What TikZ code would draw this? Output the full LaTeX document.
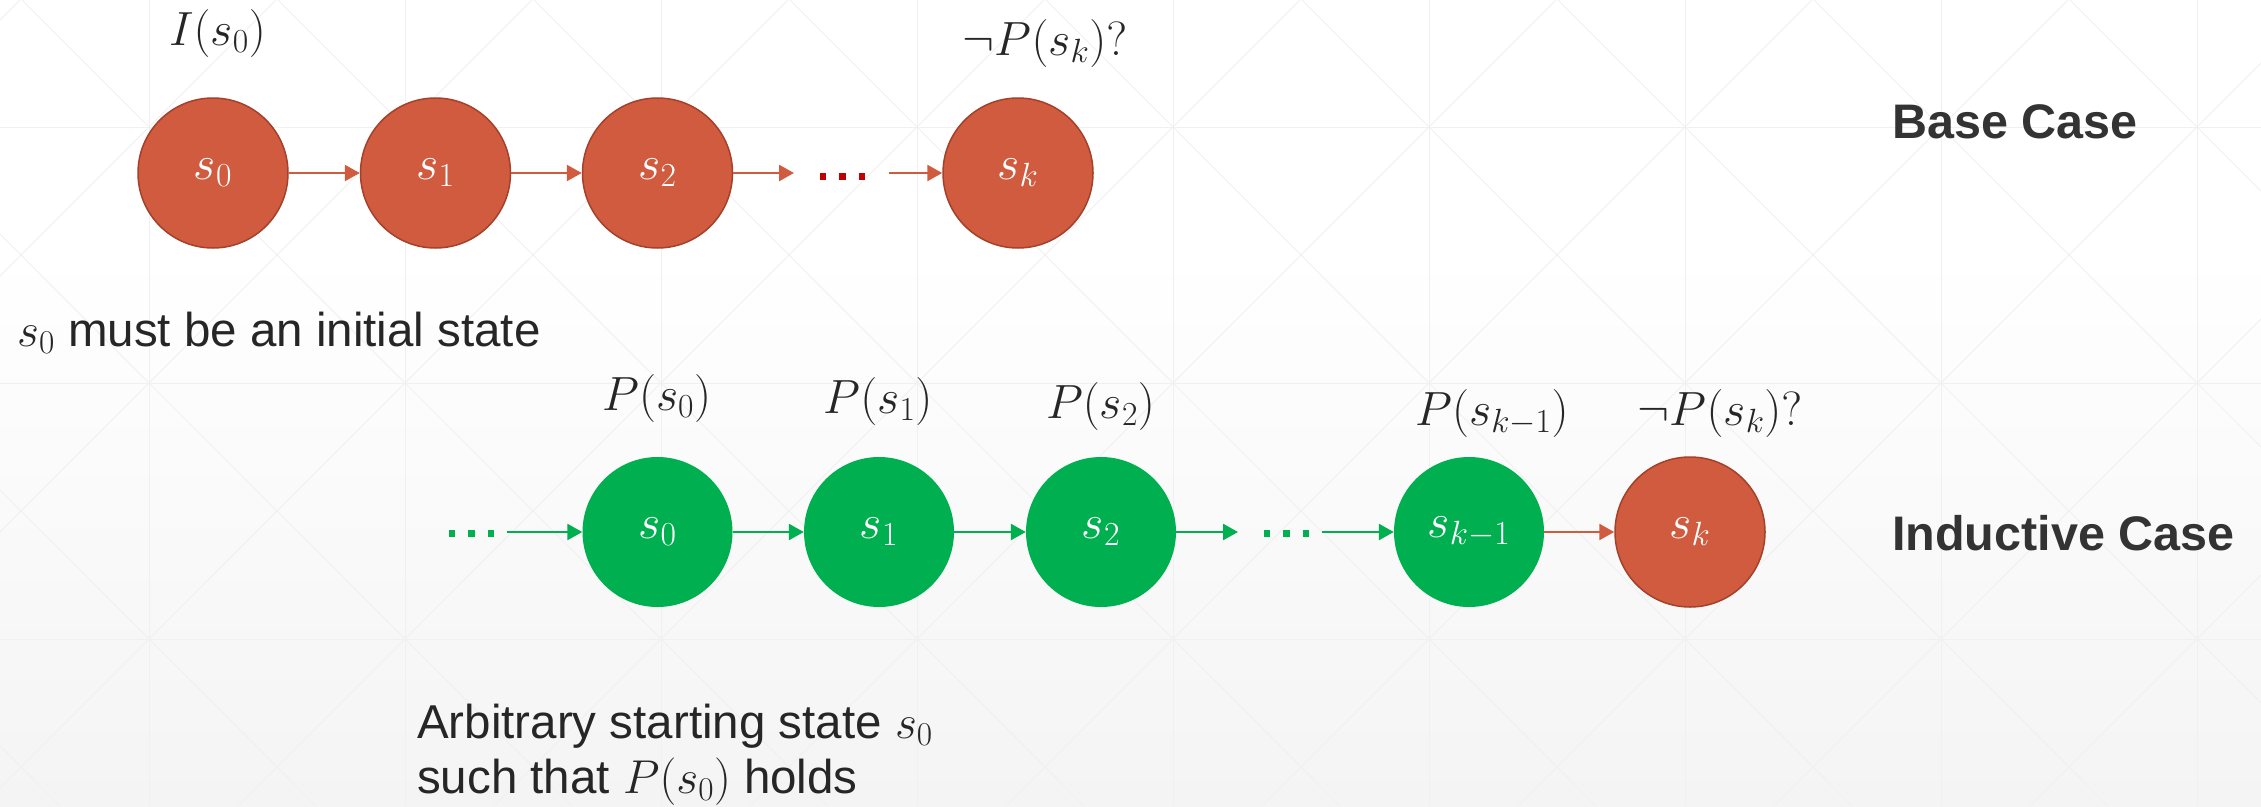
\RequirePackage{fix-cm}
\documentclass[tikz,border=0pt]{standalone}
\usepackage{fontspec}
\setmainfont{Liberation Sans}
\usetikzlibrary{arrows.meta}
\definecolor{redfill}{HTML}{D15B3F}
\definecolor{redline}{HTML}{A3412B}
\definecolor{grn}{HTML}{00B050}
\definecolor{dotred}{HTML}{C00000}
\definecolor{txt}{HTML}{262626}
\definecolor{heading}{HTML}{333333}
\definecolor{bggray}{HTML}{F4F4F4}
\definecolor{gridc}{HTML}{F0F0F0}
\newcommand{\sqdots}{\rule{6.5pt}{6.5pt}\hspace{13pt}\rule{6.5pt}{6.5pt}\hspace{13pt}\rule{6.5pt}{6.5pt}}
\begin{document}
\begin{tikzpicture}[x=1pt,y=-1pt,
  state/.style={circle,minimum size=150pt,inner sep=0pt,text=white,font=\fontsize{48}{48}\selectfont},
  redstate/.style={state,fill=redfill,draw=redline,line width=1.5pt},
  grnstate/.style={state,fill=grn},
  lbl/.style={anchor=base,inner sep=0pt,text=txt,font=\fontsize{48}{48}\selectfont},
  heading/.style={anchor=base west,inner sep=0pt,text=heading,font=\fontsize{48.5}{48.5}\selectfont\bfseries},
  note/.style={anchor=base west,inner sep=0pt,text=txt,font=\fontsize{47.5}{47.5}\selectfont},
  dotsbox/.style={anchor=south,inner sep=0pt},
  redarrow/.style={draw=redfill,line width=2.5pt,-{Triangle[length=15pt,width=16pt]}},
  grnarrow/.style={draw=grn,line width=2.5pt,-{Triangle[length=15pt,width=16pt]}},
  gridline/.style={draw=gridc,line width=1pt}
]
% background
\useasboundingbox (0,0) rectangle (2261,806);
\fill[white] (0,0) rectangle (2261,806);
\shade[top color=white,bottom color=bggray] (0,250) rectangle (2261,806);
\begin{scope}
\clip (0,0) rectangle (2261,806);
\foreach \i in {0,...,8} {\draw[gridline] (149+256*\i,0) -- (149+256*\i,806);}
\foreach \j in {0,1,2} {\draw[gridline] (0,127+256*\j) -- (2261,127+256*\j);}
\foreach \k in {-4,...,9} {
  \draw[gridline] (22+256*\k,0) -- (22+256*\k+806,806);
  \draw[gridline] (276+256*\k,0) -- (276+256*\k-806,806);
}
\foreach \k in {10,...,13} {
  \draw[gridline] (276+256*\k,0) -- (276+256*\k-806,806);
}
\end{scope}

% base case
\node[redstate] (b0) at (213,173) {$s_0$};
\node[redstate] (b1) at (435.5,173) {$s_1$};
\node[redstate] (b2) at (657.5,173) {$s_2$};
\node[redstate] (bk) at (1018,173) {$s_k$};
\node[dotsbox,text=dotred] (bdots) at (842.5,180) {\sqdots};
\coordinate (bdl) at (794,173);
\coordinate (bdr) at (889,173);
\draw[redarrow] (b0) -- (b1);
\draw[redarrow] (b1) -- (b2);
\draw[redarrow] (b2.east) -- (bdl);
\draw[redarrow] (bdr) -- (bk.west);
\node[lbl] (lI) at (217.5,45) {$I(s_0)$};
\node[lbl] (lbk) at (1045,55) {$\neg P(s_k)?$};
\node[heading] (base) at (1892,138) {Base Case};
\node[note] (must) at (17,346) {$s_0$ must be an initial state};

% inductive case
\node[grnstate] (i0) at (657.5,532) {$s_0$};
\node[grnstate] (i1) at (879,532) {$s_1$};
\node[grnstate] (i2) at (1101,532) {$s_2$};
\node[grnstate] (ik1) at (1469,532) {$s_{k-1}$};
\node[redstate] (ik) at (1690,532) {$s_k$};
\node[dotsbox,text=grn] (idots0) at (471.5,537) {\sqdots};
\node[dotsbox,text=grn] (idots1) at (1286.5,537) {\sqdots};
\coordinate (il) at (506.7,532);
\coordinate (idl) at (1238,532);
\coordinate (idr) at (1322,532);
\draw[grnarrow] (il) -- (i0.west);
\draw[grnarrow] (i0) -- (i1);
\draw[grnarrow] (i1) -- (i2);
\draw[grnarrow] (i2.east) -- (idl);
\draw[grnarrow] (idr) -- (ik1.west);
\draw[redarrow] (ik1) -- (ik);
\node[lbl] (p0) at (656.7,410) {$P(s_0)$};
\node[lbl] (p1) at (878,413) {$P(s_1)$};
\node[lbl] (p2) at (1100.5,418) {$P(s_2)$};
\node[lbl] (pk1) at (1492,425) {$P(s_{k-1})$};
\node[lbl] (pk) at (1720,425) {$\neg P(s_k)?$};
\node[heading] (ind) at (1892,550) {Inductive Case};
\node[note] (arb1) at (417,738) {Arbitrary starting state $s_0$};
\node[note] (arb2) at (417,793) {such that $P(s_0)$ holds};
\end{tikzpicture}
\end{document}
